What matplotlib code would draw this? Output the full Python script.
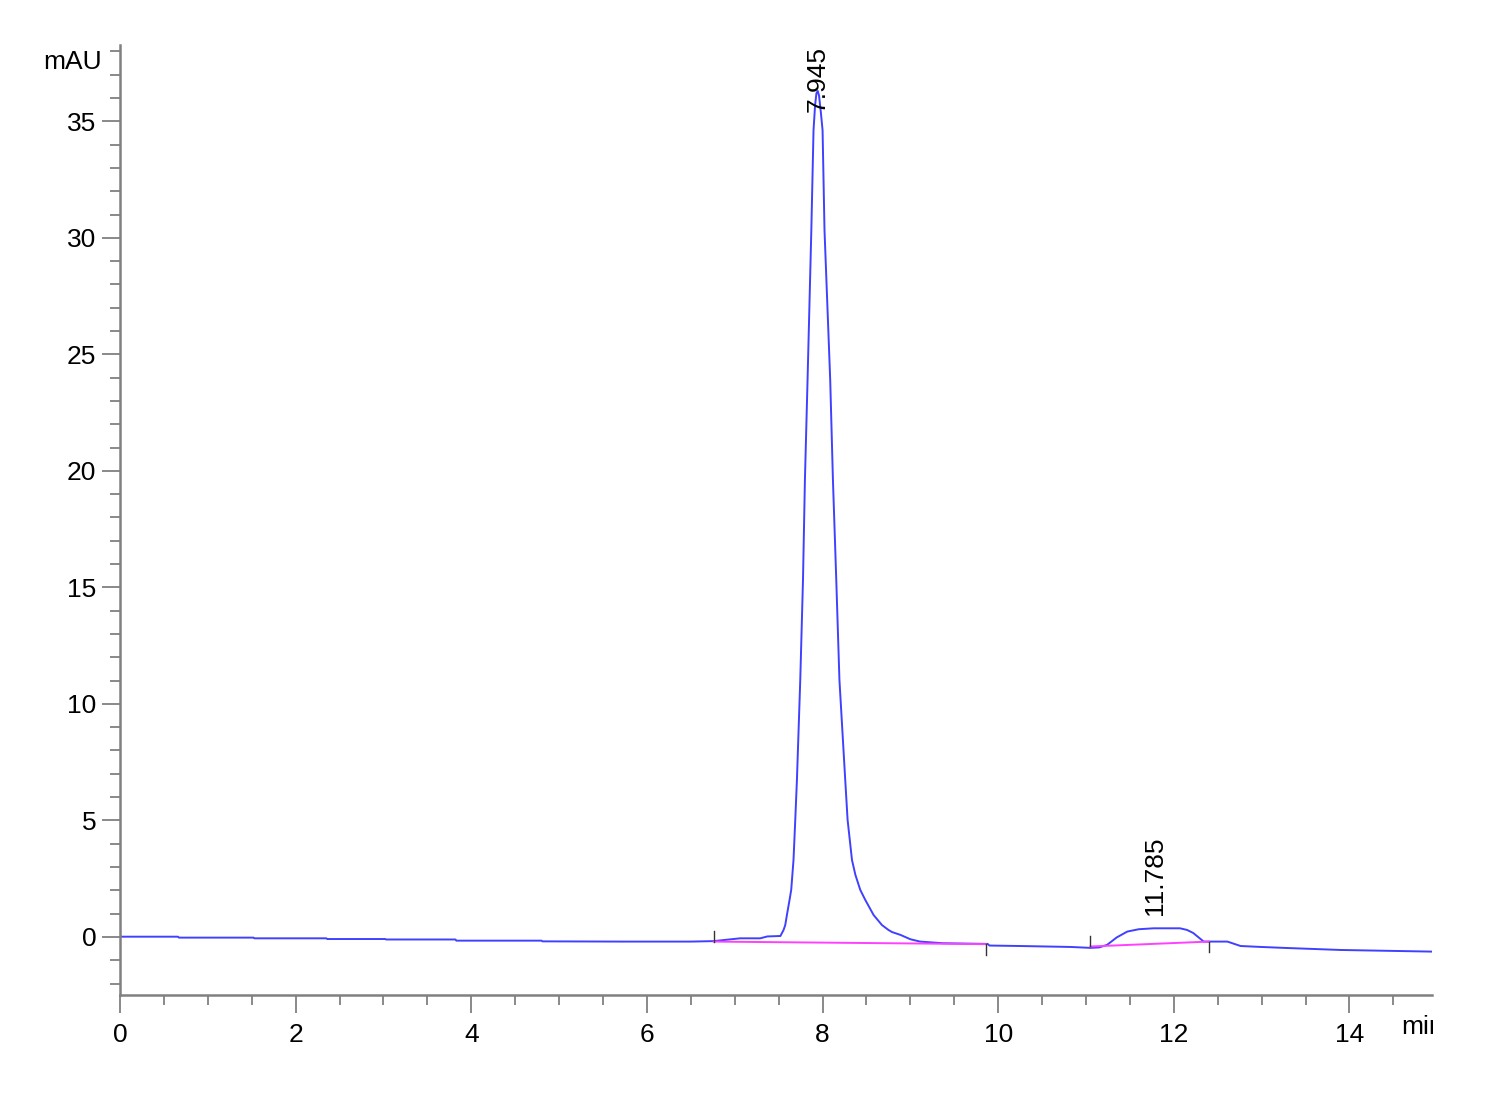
import matplotlib
matplotlib.use("Agg")
import matplotlib.pyplot as plt
from matplotlib.ticker import MultipleLocator
from matplotlib.transforms import Bbox, TransformedBbox

plt.rcParams["font.family"] = ["Liberation Sans", "DejaVu Sans"]

# chromatogram trace (min, mAU)
time = [0.0, 0.66, 0.67, 1.52, 1.53, 2.35, 2.36, 3.02, 3.03, 3.82, 3.83, 4.80, 4.81,
        5.73, 6.50, 6.76, 7.06, 7.29, 7.37, 7.52, 7.556, 7.575, 7.594, 7.624, 7.643,
        7.669, 7.689, 7.708, 7.746, 7.777, 7.799, 7.829, 7.872, 7.897, 7.915, 7.930,
        7.945, 7.960, 7.980, 8.000, 8.022, 8.087, 8.118, 8.156, 8.192, 8.258, 8.285,
        8.310, 8.335, 8.374, 8.429, 8.486, 8.581, 8.676, 8.750, 8.790, 8.885, 9.00,
        9.11, 9.37, 9.88, 9.90, 10.25, 10.82, 11.05, 11.15, 11.24, 11.35, 11.47,
        11.60, 11.77, 12.07, 12.15, 12.22, 12.34, 12.61, 12.76, 12.99, 13.25, 13.90,
        14.94]
signal = [0.01, 0.01, -0.03, -0.03, -0.06, -0.06, -0.09, -0.09, -0.11, -0.11, -0.16,
          -0.16, -0.19, -0.20, -0.20, -0.18, -0.06, -0.06, 0.02, 0.04, 0.30, 0.51,
          0.94, 1.59, 2.02, 3.30, 5.02, 6.74, 11.03, 15.32, 19.61, 23.90, 30.33,
          34.62, 35.7, 36.2, 36.3, 36.1, 35.4, 34.62, 30.33, 23.90, 19.61, 15.32,
          11.03, 6.74, 5.02, 4.16, 3.30, 2.66, 2.02, 1.59, 0.94, 0.51, 0.30, 0.21,
          0.09, -0.10, -0.20, -0.27, -0.30, -0.37, -0.39, -0.43, -0.47, -0.45, -0.34,
          -0.02, 0.23, 0.33, 0.37, 0.37, 0.30, 0.17, -0.20, -0.20, -0.39, -0.43,
          -0.47, -0.56, -0.63]

# integration baselines
base1_t = [6.76, 9.86]
base1_v = [-0.20, -0.31]
base2_t = [11.05, 12.40]
base2_v = [-0.41, -0.20]

# integration start / end markers
mark_t = [6.76, 9.86, 11.05, 12.40]
mark_v = [-0.20, -0.31, -0.41, -0.20]
mark_up = [True, False, True, False]

peak_rt = [7.945, 11.785]
peak_label = ["7.945", "11.785"]
label_y = [35.4, 0.95]

fig = plt.figure(figsize=(15, 11), dpi=100)
ax = fig.add_axes([0.08, 0.0955, 0.8747, 0.8635])

ax.plot(time, signal, color="#4040ff", lw=1.4)
ax.plot(base1_t, base1_v, color="#ff40ff", lw=1.4)
ax.plot(base2_t, base2_v, color="#ff40ff", lw=1.4)

for t, v, up in zip(mark_t, mark_v, mark_up):
    if up:
        ax.plot([t, t], [v, v + 0.45], color="#333333", lw=1)
    else:
        ax.plot([t, t], [v, v - 0.45], color="#333333", lw=1)

for t, s, y in zip(peak_rt, peak_label, label_y):
    ax.text(t, y, s, rotation=90, ha="center", va="bottom", fontsize=19)

ax.set_xlim(0, 14.94)
ax.set_ylim(-2.49, 38.27)
ax.xaxis.set_major_locator(MultipleLocator(2))
ax.xaxis.set_minor_locator(MultipleLocator(0.5))
ax.yaxis.set_major_locator(MultipleLocator(5))
ax.yaxis.set_minor_locator(MultipleLocator(1))

for side in ["top", "right"]:
    ax.spines[side].set_visible(False)
for side in ["left", "bottom"]:
    ax.spines[side].set_color("#808080")
    ax.spines[side].set_linewidth(1.8)

ax.tick_params(which="major", length=13, width=1.3, color="#808080", labelsize=19)
ax.tick_params(which="minor", length=7, width=1.3, color="#808080")
ax.tick_params(axis="y", which="major", pad=4)
ax.tick_params(axis="x", which="major", pad=7)

fig.text(102 / 1500, 1 - 62 / 1100, "mAU", ha="right", va="center", fontsize=19)
unit = fig.text(1401 / 1500, 1 - 1027 / 1100, "min", ha="left", va="center", fontsize=19)
unit.set_clip_box(TransformedBbox(Bbox([[0, 0], [1433 / 1500, 1]]), fig.transFigure))
unit.set_clip_on(True)

fig.savefig("out.png", dpi=100, facecolor="white")
